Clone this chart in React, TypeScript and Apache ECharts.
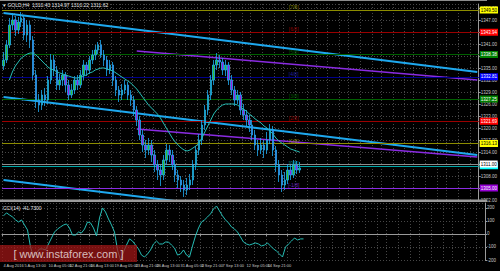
import React, { useEffect, useRef } from "react";
import * as echarts from "echarts";

// [open, close, low, high]
const candles: number[][] = [
  [1335.5, 1337, 1334.5, 1339], [1337, 1340.75, 1336.25, 1342], [1340.75, 1345.75, 1340, 1347.5],
  [1345.75, 1347, 1344.5, 1348.75], [1347, 1344.5, 1343, 1348], [1344.5, 1346.5, 1343.5, 1347.75],
  [1346.5, 1347.5, 1345.25, 1349], [1347.5, 1343.25, 1342, 1348.25], [1343.25, 1345.75, 1341.5, 1347],
  [1345.75, 1342, 1340, 1346.75], [1342, 1333.25, 1332, 1343], [1333.25, 1327, 1325, 1334.5],
  [1327, 1325.75, 1324, 1328.5], [1325.75, 1328.25, 1324.5, 1329.5], [1328.25, 1327, 1325.5, 1330],
  [1327, 1332, 1326, 1333], [1332, 1337, 1331, 1338.5], [1337, 1334.5, 1333, 1338.25],
  [1334.5, 1330.75, 1329.5, 1335.5], [1330.75, 1332, 1329.5, 1333.5], [1332, 1333.25, 1330.5, 1334.5],
  [1333.25, 1330.75, 1329, 1334], [1330.75, 1328.25, 1327, 1332], [1328.25, 1329.5, 1327.5, 1331],
  [1329.5, 1332, 1328.5, 1333], [1332, 1330.75, 1329.5, 1333.25], [1330.75, 1333.25, 1330, 1334.5],
  [1333.25, 1335.75, 1332, 1337], [1335.75, 1334.5, 1333, 1336.5], [1334.5, 1337, 1333.5, 1338],
  [1337, 1338.25, 1336, 1339.5], [1338.25, 1339.5, 1337, 1340.75], [1339.5, 1340.75, 1338.5, 1341.5],
  [1340.75, 1338.25, 1337.5, 1342], [1338.25, 1337, 1335.5, 1339.5], [1337, 1334.5, 1333, 1338],
  [1334.5, 1335.75, 1333.5, 1337], [1335.75, 1332, 1330.5, 1336.5], [1332, 1329.5, 1328, 1333],
  [1329.5, 1328.25, 1326.5, 1330.5], [1328.25, 1329.5, 1327, 1331], [1329.5, 1330.75, 1328.5, 1332],
  [1330.75, 1328.25, 1327, 1331.5], [1328.25, 1327, 1325.5, 1329.5], [1327, 1324.5, 1323, 1328],
  [1324.5, 1322, 1320.5, 1325.5], [1322, 1318.25, 1317, 1323], [1318.25, 1315.75, 1314, 1319.5],
  [1315.75, 1314.5, 1312.5, 1317], [1314.5, 1315.75, 1313.25, 1317.5], [1315.75, 1313.25, 1311.5, 1317],
  [1313.25, 1310.75, 1309, 1314.5], [1310.75, 1309.5, 1307, 1312], [1309.5, 1308.25, 1305.5, 1310.75],
  [1308.25, 1312, 1307, 1313.25], [1312, 1314.5, 1310.75, 1316], [1314.5, 1313.25, 1311.5, 1315.75],
  [1313.25, 1310.75, 1309.5, 1314.5], [1310.75, 1308.25, 1306.5, 1312], [1308.25, 1307, 1305, 1309.5],
  [1307, 1305.75, 1304, 1308], [1305.75, 1304.5, 1302.75, 1307], [1304.5, 1305.75, 1303.25, 1307.5],
  [1305.75, 1307, 1304.5, 1308.5], [1307, 1310.75, 1305.75, 1312], [1310.75, 1314.5, 1309.5, 1315.5],
  [1314.5, 1317, 1313.25, 1318.5], [1317, 1320.75, 1315.75, 1322], [1320.75, 1324.5, 1319.5, 1325.75],
  [1324.5, 1328.25, 1323.25, 1329.5], [1328.25, 1332, 1327, 1333.25], [1332, 1335.75, 1330.75, 1337],
  [1335.75, 1337, 1334.5, 1338.75], [1337, 1336.5, 1335, 1338.25], [1336.5, 1334.5, 1333.25, 1337.5],
  [1334.5, 1335.75, 1333, 1337], [1335.75, 1332, 1330.75, 1336.5], [1332, 1329.5, 1328.25, 1333.25],
  [1329.5, 1327, 1325.5, 1330.5], [1327, 1328.25, 1326, 1329.5], [1328.25, 1324.5, 1323.25, 1329],
  [1324.5, 1323.25, 1322, 1326], [1323.25, 1322, 1320.5, 1324.5], [1322, 1320.75, 1319, 1323.25],
  [1320.75, 1318.25, 1317, 1322], [1318.25, 1315.75, 1314.5, 1319.5], [1315.75, 1314.5, 1313, 1317],
  [1314.5, 1315.75, 1313.5, 1317.5], [1315.75, 1314.5, 1312.5, 1317], [1314.5, 1317, 1313.5, 1319],
  [1317, 1319.5, 1316, 1321], [1319.5, 1314.5, 1313, 1320.5], [1314.5, 1310.75, 1309, 1315.5],
  [1310.75, 1308.25, 1306.5, 1312], [1308.25, 1305.75, 1304, 1309.5], [1305.75, 1307, 1304.5, 1309],
  [1307, 1309.5, 1306, 1311], [1309.5, 1308.25, 1307, 1310.75], [1308.25, 1310.75, 1307.5, 1312],
  [1310.75, 1309.5, 1308.5, 1311.75], [1309.5, 1310, 1308.75, 1311.5],
];

const maValues: (number | null)[] = [
  null, null, 1332, 1334, 1335.5, 1336.5, 1337.5, 1338, 1338.5, 1338.75,
  1338.75, 1338.25, 1337.5, 1336.75, 1336, 1335.25, 1334.75, 1334.5, 1334, 1333.75,
  1333.5, 1333.25, 1333, 1332.75, 1332.5, 1332.5, 1332.75, 1333, 1333.25, 1333.75,
  1334, 1334.5, 1334.75, 1335, 1335, 1334.75, 1334.5, 1334.25, 1333.75, 1333.25,
  1332.75, 1332.25, 1331.75, 1331.25, 1330.5, 1329.75, 1328.75, 1327.75, 1326.75, 1325.75,
  1325, 1324.25, 1323.5, 1322.5, 1321.25, 1320, 1318.75, 1317.5, 1316.5, 1315.75,
  1315, 1314.5, 1314.25, 1314.5, 1315, 1315.5, 1316.25, 1317.5, 1319, 1320.5,
  1322, 1323.5, 1324.5, 1325.25, 1325.75, 1326, 1326, 1326, 1326, 1325.75,
  1325.25, 1324.75, 1324.25, 1323.5, 1323, 1322.25, 1321.75, 1321.25, 1320.5, 1320,
  1319.25, 1318.5, 1317.5, 1316.75, 1316.25, 1315.75, 1315.25, 1314.75, 1314.5, 1314.25,
  1314,
];

const cciValues: number[] = [
  139, 162, 146, 131, 108, 92, 108, 69, 31, -100,
  -177, -146, -115, -115, -123, -77, -31, 15, 38, 54,
  69, 77, 46, -8, -8, 15, 8, 38, 92, 85,
  46, -15, 123, 200, 169, 115, 69, 15, -123, -200,
  -138, -85, -38, -54, -85, -115, -162, -177, -154, -123,
  -77, -54, -77, -77, -62, -62, -85, -108, -162, -154,
  -123, -162, -177, -92, -15, 46, 92, 108, 131, 154,
  192, 215, 177, 139, 108, 85, 54, 38, 15, -23,
  -62, -77, -85, -77, -69, -77, -92, -85, -69, -92,
  -115, -131, -154, -177, -100, -77, -54, -31, -46, -38,
  -38,
];

const xLabels = [
  "4 Aug 2016", "5 Aug 13:00", "10 Aug 05:00", "12 Aug 21:00", "16 Aug 13:00",
  "19 Aug 05:00", "23 Aug 21:00", "26 Aug 13:00", "31 Aug 05:00", "2 Sep 21:00",
  "7 Sep 13:00", "12 Sep 05:00", "14 Sep 21:00", "19 Sep 13:00",
];

// trend lines: [slotIndex, price]
const cyanUpper = [[0, 1348.75], [160, 1334]];
const cyanMiddle = [[0, 1327.75], [160, 1313.25]];
const cyanLower = [[0, 1307], [160, 1292.5]];
const purpleUpper = [[45, 1339.25], [160, 1332]];
const purpleLower = [[45, 1319.75], [160, 1312.75]];

const levelValues = [1349.5, 1343.9375, 1338.375, 1332.8125, 1327.25, 1321.6875, 1316.125, 1310.5625, 1305];
const levelTags = ["[7/8]", "[6/8]", "[5/8]", "[4/8]", "[3/8]", "[2/8]", "[1/8]", "[0/8]", "[-1/8]"];
const levelLineColors = ["#8c8c00", "#9a0000", "#006000", "#00008c", "#006000", "#9a0000", "#8c8c00", "#00a5a5", "#8a2be2"];
const levelBoxColors = ["#ffff00", "#ff0000", "#008000", "#0000ff", "#008000", "#ff0000", "#ffff00", "#00ffff", "#9400d3"];
const levelTextColors = ["#000", "#fff", "#fff", "#fff", "#fff", "#fff", "#000", "#000", "#fff"];
const levelTagColors = ["#a0a000", "#b00000", "#007000", "#2828c8", "#007000", "#b00000", "#a0a000", "#00b0b0", "#8a2be2"];
const currentPrice = 1311.0;

const TOTAL_SLOTS = 161;

export default function App() {
  const ref = useRef<HTMLDivElement>(null);
  useEffect(() => {
    if (!ref.current) return;
    const chart = echarts.init(ref.current, undefined, { renderer: "svg" });
    const cats = Array.from({ length: TOTAL_SLOTS }, (_, i) => String(i));
    const gridIdx = Array.from({ length: 44 }, (_, i) => Math.round((i * 11) / 3));
    const labelIdx = gridIdx.filter((_, i) => i % 2 === 0).slice(0, xLabels.length);
    const dotted = { color: "#474747", type: [1, 2] as any, width: 1 };
    const font = "Liberation Sans";

    const trend = (data: number[][], color: string, width: number) => ({
      type: "line",
      xAxisIndex: 0,
      yAxisIndex: 0,
      data,
      showSymbol: false,
      silent: true,
      lineStyle: { color, width },
      z: 4,
    });

    const markLabel = (text: string, fg: string, bg: string) => ({
      show: true,
      position: "end",
      distance: 1,
      formatter: text,
      fontSize: 4.5,
      fontFamily: font,
      color: fg,
      backgroundColor: bg,
      padding: [1, 1, 1, 1],
    });

    const levelMarks: any[] = levelValues.map((v, i) => ({
      yAxis: v,
      lineStyle: { color: levelLineColors[i], width: 1, type: "solid" },
      label: markLabel(v.toFixed(2), levelTextColors[i], levelBoxColors[i]),
    }));
    levelMarks.push({
      yAxis: currentPrice,
      lineStyle: { color: "#8c8c8c", width: 1, type: "solid" },
      label: markLabel(currentPrice.toFixed(2), "#000", "#ffffff"),
    });

    const option: any = {
      backgroundColor: "#000000",
      animation: false,
      textStyle: { fontFamily: font },
      grid: [
        { left: 2, right: 15, top: 4, height: 196 },
        { left: 2, right: 15, top: 203, height: 57 },
      ],
      xAxis: [
        {
          type: "category",
          gridIndex: 0,
          data: cats,
          axisLine: { show: false },
          axisTick: { show: false },
          axisLabel: { show: false },
          splitLine: { show: true, interval: (i: number) => gridIdx.includes(i), lineStyle: dotted },
        },
        {
          type: "category",
          gridIndex: 1,
          data: cats,
          axisLine: { show: true, lineStyle: { color: "#9a9a9a" } },
          axisTick: { show: true, length: 2, interval: (i: number) => labelIdx.includes(i), lineStyle: { color: "#9a9a9a" } },
          axisLabel: {
            show: true,
            interval: (i: number) => labelIdx.includes(i),
            formatter: (_v: string, i: number) => {
              const j = labelIdx.indexOf(i);
              return j >= 0 ? xLabels[j] : "";
            },
            color: "#c8c8c8",
            fontSize: 4,
            align: "left",
            margin: 3,
          },
          splitLine: { show: true, interval: (i: number) => gridIdx.includes(i), lineStyle: dotted },
        },
      ],
      yAxis: [
        {
          type: "value",
          gridIndex: 0,
          position: "right",
          min: 1302,
          max: 1351,
          interval: 3,
          axisLine: { show: true, lineStyle: { color: "#9a9a9a" } },
          axisTick: { show: true, length: 2, lineStyle: { color: "#9a9a9a" } },
          axisLabel: { color: "#c8c8c8", fontSize: 4.5, margin: 2, formatter: (v: number) => v.toFixed(2) },
          splitLine: { show: true, lineStyle: dotted },
        },
        {
          type: "value",
          gridIndex: 1,
          position: "right",
          min: -200,
          max: 238,
          interval: 100,
          axisLine: { show: true, lineStyle: { color: "#9a9a9a" } },
          axisTick: { show: true, length: 2, lineStyle: { color: "#9a9a9a" } },
          axisLabel: { color: "#c8c8c8", fontSize: 4.5, margin: 2, showMaxLabel: false },
          splitLine: { show: true, lineStyle: dotted },
        },
      ],
      series: [
        {
          type: "line",
          xAxisIndex: 0,
          yAxisIndex: 0,
          data: [],
          silent: true,
          z: 2,
          markLine: { symbol: "none", silent: true, data: levelMarks },
        },
        trend(cyanUpper, "#1ea8ee", 2),
        trend(cyanMiddle, "#1ea8ee", 2),
        trend(cyanLower, "#1ea8ee", 2),
        trend(purpleUpper, "#8a2be2", 1.5),
        trend(purpleLower, "#8a2be2", 1.5),
        {
          type: "candlestick",
          xAxisIndex: 0,
          yAxisIndex: 0,
          data: candles,
          barWidth: 2,
          z: 5,
          itemStyle: {
            color: "#2fc02f",
            color0: "#9b1fe0",
            borderColor: "#1eaaf0",
            borderColor0: "#1eaaf0",
            borderWidth: 0.8,
          },
        },
        {
          type: "line",
          xAxisIndex: 0,
          yAxisIndex: 0,
          data: maValues,
          showSymbol: false,
          silent: true,
          z: 6,
          lineStyle: { color: "#26bdb5", width: 1 },
        },
        {
          type: "scatter",
          xAxisIndex: 0,
          yAxisIndex: 0,
          symbolSize: 1,
          silent: true,
          itemStyle: { color: "rgba(0,0,0,0)" },
          data: levelValues.map((v, i) => ({ value: [98, v], label: { color: levelTagColors[i] } })),
          label: {
            show: true,
            position: "top",
            distance: 0,
            fontSize: 5,
            formatter: (p: any) => levelTags[p.dataIndex],
          },
          z: 7,
        },
        {
          type: "line",
          xAxisIndex: 1,
          yAxisIndex: 1,
          data: cciValues,
          showSymbol: false,
          silent: true,
          lineStyle: { color: "#26bdb5", width: 1 },
        },
      ],
      graphic: [
        { type: "rect", shape: { x: 0, y: 0, width: 487, height: 1 }, style: { fill: "#8c8c8c" }, z: 100 },
        { type: "rect", shape: { x: 0, y: 199.5, width: 487, height: 2.5 }, style: { fill: "#9a9a9a" }, z: 100 },
        {
          type: "text",
          x: 3,
          y: 2,
          z: 101,
          style: { text: "▾ GOLD,H4  1310.43 1314.97 1310.22 1311.62", fill: "#e6e6e6", fontSize: 5, fontFamily: font },
        },
        {
          type: "text",
          x: 3,
          y: 205,
          z: 101,
          style: { text: "CCI(14) -41.7300", fill: "#e6e6e6", fontSize: 5, fontFamily: font },
        },
        { type: "rect", shape: { x: 0, y: 245, width: 137, height: 17 }, style: { fill: "rgba(165,22,22,0.72)" }, z: 102 },
        {
          type: "text",
          x: 68.5,
          y: 253.5,
          z: 103,
          style: {
            text: "[ www.instaforex.com ]",
            fill: "rgba(255,255,255,0.72)",
            fontSize: 11,
            fontFamily: font,
            align: "center",
            verticalAlign: "middle",
          },
        },
      ],
    };
    chart.setOption(option);
    return () => chart.dispose();
  }, []);
  return <div ref={ref} style={{ position: "fixed", left: 0, top: 0, width: 500, height: 271 }} />;
}
